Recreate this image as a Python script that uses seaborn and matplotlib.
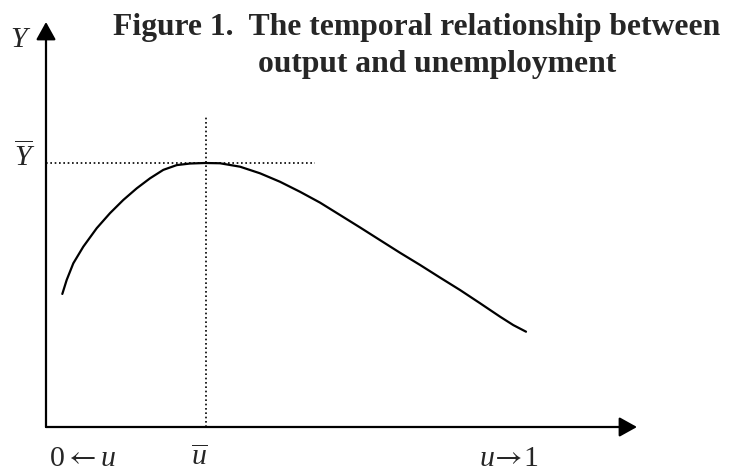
import numpy as np
import pandas as pd
import matplotlib
matplotlib.use("Agg")
import matplotlib.pyplot as plt
import seaborn as sns

# Значения (u - безработица, Y - выпуск, Ȳ = 1)
unemployment = [0.0276, 0.0350, 0.0462, 0.0631, 0.0858, 0.1083, 0.1308, 0.1535,
                0.1760, 0.1985, 0.2212, 0.2437, 0.2690, 0.2944, 0.3283, 0.3621,
                0.3959, 0.4298, 0.4636, 0.4975, 0.5313, 0.5651, 0.5990, 0.6328,
                0.6667, 0.7005, 0.7343, 0.7682, 0.7907, 0.8122]
output = [0.504, 0.557, 0.620, 0.683, 0.753, 0.810, 0.860, 0.904,
          0.942, 0.974, 0.992, 0.998, 1.000, 0.999, 0.986, 0.961,
          0.929, 0.891, 0.850, 0.803, 0.756, 0.708, 0.660, 0.614,
          0.566, 0.519, 0.469, 0.418, 0.386, 0.361]
u_bar = 0.271
y_bar = 1.0
title_lines = ["Figure 1.  The temporal relationship between",
               "output and unemployment"]
x_labels = [r"$0\mathsf{\leftarrow}u$", r"$\overline{u}$",
            r"$u\!\mathsf{\rightarrow}\!1$"]
x_label_pos = [0.061, 0.259, 0.782]

sns.set_style("white")
plt.rcParams["font.family"] = ["Liberation Serif", "DejaVu Serif"]
plt.rcParams["mathtext.fontset"] = "custom"
plt.rcParams["mathtext.rm"] = "Liberation Serif"
plt.rcParams["mathtext.it"] = "Liberation Serif:italic"
plt.rcParams["mathtext.sf"] = "STIXGeneral"

W, H = 731, 473
fig = plt.figure(figsize=(W / 100, H / 100), dpi=100)
# оси в пикселях: начало координат (46, 427), стрелка X до 637, стрелка Y до 22
x0, y0, x1, y1 = 46, 427, 637, 22
ax = fig.add_axes([x0 / W, (H - y0) / H, (x1 - x0) / W, (y0 - y1) / H])
px_per_y = 264
ax.set_xlim(0, 1)
ax.set_ylim(0, (y0 - y1) / px_per_y)
ax.axis("off")

df = pd.DataFrame({"u": unemployment, "Y": output})
sns.lineplot(data=df, x="u", y="Y", sort=False, color="black", lw=1.6, ax=ax)

# пунктирные линии уровня
dots = dict(color="black", lw=1.2, ls=(0, (1, 1.6)))
ax.plot([0, 0.455], [y_bar, y_bar], **dots)
ax.plot([u_bar, u_bar], [0, 1.182], **dots)

# оси со стрелками
arrow = dict(arrowstyle="-|>,head_length=0.9,head_width=0.5", color="black",
             lw=1.6, mutation_scale=12, shrinkA=0, shrinkB=0)
ymax = ax.get_ylim()[1]
ax.annotate("", xy=(1, 0), xytext=(0, 0), arrowprops=arrow, annotation_clip=False)
ax.annotate("", xy=(0, ymax), xytext=(0, 0), arrowprops=arrow, annotation_clip=False)

# подписи
fs = 21.5
for lab, pos in zip(x_labels, x_label_pos):
    ax.text(pos, (y0 - 466) / px_per_y, lab, fontsize=fs, ha="center",
            va="baseline", clip_on=False)
ax.text(-0.0457, (y0 - 47) / px_per_y, "Y", fontsize=fs, style="italic",
        ha="center", va="baseline", clip_on=False)
ax.text(-0.036, (y0 - 167) / px_per_y, r"$\overline{Y}$", fontsize=fs,
        ha="center", va="baseline", clip_on=False)

fig.text(113 / W, 1 - 35 / H, title_lines[0], fontsize=22.8, fontweight="bold",
         ha="left", va="baseline")
fig.text(258 / W, 1 - 72 / H, title_lines[1], fontsize=22.8, fontweight="bold",
         ha="left", va="baseline")

fig.savefig("out.png", dpi=100)
